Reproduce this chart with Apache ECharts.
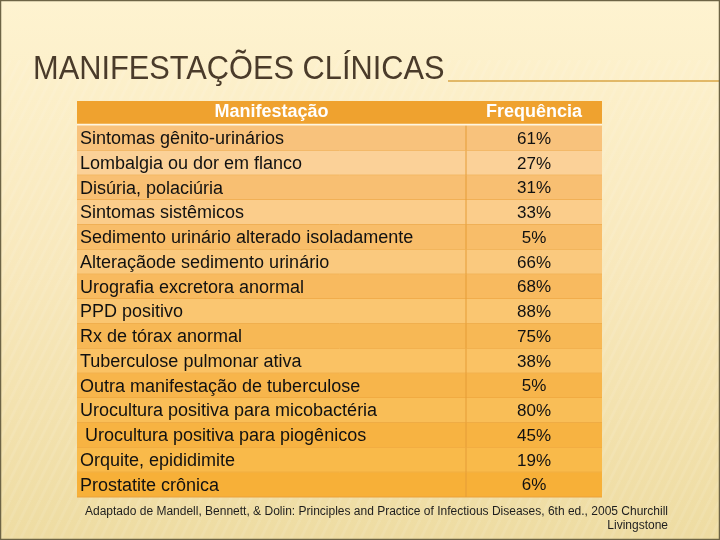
<!DOCTYPE html>
<html>
<head>
<meta charset="utf-8">
<script src="https://cdn.jsdelivr.net/npm/echarts@6/dist/echarts.min.js"></script>
<style>html,body{margin:0;padding:0;}#c{width:720px;height:540px;}</style>
</head>
<body>
<div id="c"></div>
<script>
const titleText = 'MANIFESTAÇÕES CLÍNICAS';
const headers = ['Manifestação', 'Frequência'];
const manifestations = [
  'Sintomas gênito-urinários',
  'Lombalgia ou dor em flanco',
  'Disúria, polaciúria',
  'Sintomas sistêmicos',
  'Sedimento urinário alterado isoladamente',
  'Alteraçãode sedimento urinário',
  'Urografia excretora anormal',
  'PPD positivo',
  'Rx de tórax anormal',
  'Tuberculose pulmonar ativa',
  'Outra manifestação de tuberculose',
  'Urocultura positiva para micobactéria',
  ' Urocultura positiva para piogênicos',
  'Orquite, epididimite',
  'Prostatite crônica'
];
const frequencies = [61, 27, 31, 33, 5, 66, 68, 88, 75, 38, 5, 80, 45, 19, 6];
const sourceLines = [
  'Adaptado de Mandell, Bennett, & Dolin: Principles and Practice of Infectious Diseases, 6th ed., 2005 Churchill',
  'Livingstone'
];

const categories = [headers[0]].concat(manifestations);
const SPLIT = 389 / 525;
const FONT = 'Liberation Sans, Arial, sans-serif';

function hex(c){return [parseInt(c.slice(1,3),16),parseInt(c.slice(3,5),16),parseInt(c.slice(5,7),16)];}
function mix(a,b,t){const A=hex(a),B=hex(b);return 'rgb('+A.map((v,i)=>Math.round(v+(B[i]-v)*t)).join(',')+')';}
function rowColor(i){
  const t = i / (manifestations.length - 1);
  return (i % 2 === 0) ? mix('#F8C27C', '#F7B038', t) : mix('#FBD39E', '#F9B844', t);
}

// diagonal stripe pattern for background texture
const stripeCanvas = document.createElement('canvas');
stripeCanvas.width = 10; stripeCanvas.height = 20;
(function(){
  const g = stripeCanvas.getContext('2d');
  g.strokeStyle = 'rgba(255,255,255,0.2)';
  g.lineWidth = 3;
  for (let k = -10; k <= 20; k += 10) { g.beginPath(); g.moveTo(k, 20); g.lineTo(k + 10, 0); g.stroke(); }
})();

const chart = echarts.init(document.getElementById('c'), null, {renderer: 'canvas'});
chart.setOption({
  backgroundColor: {
    type: 'linear', x: 0, y: 0, x2: 0, y2: 1,
    colorStops: [{offset: 0, color: '#FEF3D0'}, {offset: 0.5, color: '#F8E8BC'}, {offset: 1, color: '#EEDCA2'}]
  },
  animation: false,
  grid: {left: 77, top: 101, width: 525, height: 396, containLabel: false},
  xAxis: {type: 'value', min: 0, max: 1, show: false},
  yAxis: {type: 'category', data: categories, inverse: true, show: false},
  graphic: [
    {type: 'rect', shape: {x: 0, y: 60, width: 720, height: 480}, style: {fill: {image: stripeCanvas, repeat: 'repeat'}, opacity: 0.5}, z: -10, silent: true},
    {type: 'text', x: 33, y: 70, scaleX: 0.905, style: {text: titleText, x: 0, y: 0, verticalAlign: 'middle', fontFamily: FONT, fontSize: 34, fill: '#4A3B2A'}},
    {type: 'line', shape: {x1: 448, y1: 81, x2: 720, y2: 81}, style: {stroke: '#D9A646', lineWidth: 1.5}},
    {type: 'rect', shape: {x: 0.5, y: 0.5, width: 719, height: 539}, style: {fill: 'none', stroke: '#6D6445', lineWidth: 1.5}, z: 100},
    {type: 'text', style: {x: 668, y: 505, text: sourceLines.join('\n'), align: 'right', verticalAlign: 'top', fontFamily: FONT, fontSize: 12, lineHeight: 14, fill: '#1E1E1E'}}
  ],
  series: [{
    type: 'custom',
    coordinateSystem: 'cartesian2d',
    encode: {x: 0, y: 1},
    data: categories.map((c, i) => [0, i]),
    renderItem: function (params, api) {
      const row = api.value(1);
      const p0 = api.coord([0, row]);
      const pS = api.coord([SPLIT, row]);
      const p1 = api.coord([1, row]);
      const h = api.size([0, 1])[1];
      const top = p0[1] - h / 2;
      const children = [];
      if (row === 0) {
        children.push({type: 'rect', shape: {x: p0[0], y: top, width: p1[0] - p0[0], height: h}, style: {fill: '#EFA22F'}});
        children.push({type: 'rect', shape: {x: p0[0], y: top + h - 2, width: p1[0] - p0[0], height: 2}, style: {fill: '#FFF6E2'}});
        children.push({type: 'text', style: {x: (p0[0] + pS[0]) / 2, y: p0[1] - 1, text: headers[0], align: 'center', verticalAlign: 'middle', fontFamily: FONT, fontSize: 18, fontWeight: 'bold', fill: '#FFFFFF'}});
        children.push({type: 'text', style: {x: (pS[0] + p1[0]) / 2, y: p0[1] - 1, text: headers[1], align: 'center', verticalAlign: 'middle', fontFamily: FONT, fontSize: 18, fontWeight: 'bold', fill: '#FFFFFF'}});
      } else {
        const i = row - 1;
        const col = rowColor(i);
        children.push({type: 'rect', shape: {x: p0[0], y: top, width: p1[0] - p0[0], height: h}, style: {fill: col}});
        children.push({type: 'line', shape: {x1: p0[0], y1: top + h, x2: p1[0], y2: top + h}, style: {stroke: '#EAA13A', lineWidth: 1}});
        children.push({type: 'line', shape: {x1: pS[0], y1: top, x2: pS[0], y2: top + h}, style: {stroke: '#E59C36', lineWidth: 1}});
        children.push({type: 'text', style: {x: p0[0] + 3, y: p0[1] + 1, text: manifestations[i], align: 'left', verticalAlign: 'middle', fontFamily: FONT, fontSize: 18, fill: '#111111'}});
        children.push({type: 'text', style: {x: (pS[0] + p1[0]) / 2, y: p0[1] + 1, text: frequencies[i] + '%', align: 'center', verticalAlign: 'middle', fontFamily: FONT, fontSize: 17, fill: '#111111'}});
      }
      return {type: 'group', children: children};
    }
  }]
});
</script>
</body>
</html>
